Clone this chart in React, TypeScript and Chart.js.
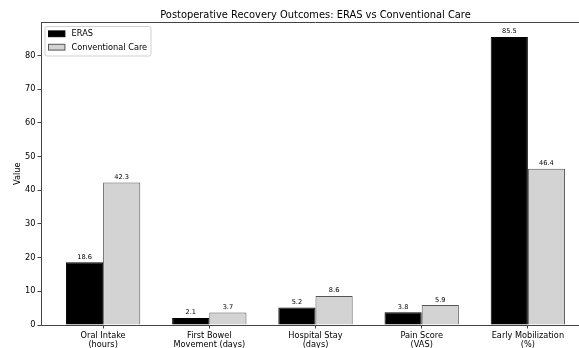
import React, { useEffect, useRef } from "react";
import { Chart, registerables } from "chart.js";

Chart.register(...registerables);

const categories: string[][] = [
  ["Oral Intake", "(hours)"],
  ["First Bowel", "Movement (days)"],
  ["Hospital Stay", "(days)"],
  ["Pain Score", "(VAS)"],
  ["Early Mobilization", "(%)"],
];
const erasValues = [18.6, 2.1, 5.2, 3.8, 85.5];
const conventionalValues = [42.3, 3.7, 8.6, 5.9, 46.4];
const seriesNames = ["ERAS", "Conventional Care"];
const yTicks = [0, 10, 20, 30, 40, 50, 60, 70, 80];
const chartTitle = "Postoperative Recovery Outcomes: ERAS vs Conventional Care";
const yTitle = "Value";

const FONT = "'DejaVu Sans', sans-serif";
const CW = 620;
const CH = 380;
const SPINE = "#444";

export default function App() {
  const ref = useRef<HTMLCanvasElement | null>(null);

  useEffect(() => {
    if (!ref.current) return;

    const labelPlugin = {
      id: "valueLabels",
      afterDatasetsDraw(chart: any) {
        const ctx = chart.ctx;
        ctx.save();
        ctx.font = `6.6px ${FONT}`;
        ctx.fillStyle = "#000";
        ctx.textAlign = "center";
        ctx.textBaseline = "bottom";
        chart.data.datasets.forEach((ds: any, di: number) => {
          const meta = chart.getDatasetMeta(di);
          meta.data.forEach((el: any, i: number) => {
            ctx.fillText(ds.data[i].y.toFixed(1), el.x, el.y - 2);
          });
        });
        ctx.restore();
      },
      afterDraw(chart: any) {
        const ctx = chart.ctx;
        const a = chart.chartArea;
        ctx.save();
        // top and right spines
        ctx.strokeStyle = SPINE;
        ctx.lineWidth = 1;
        ctx.beginPath();
        ctx.moveTo(a.left, a.top);
        ctx.lineTo(a.right, a.top);
        ctx.lineTo(a.right, a.bottom);
        ctx.stroke();
        // title
        ctx.font = `9.9px ${FONT}`;
        ctx.fillStyle = "#000";
        ctx.textAlign = "center";
        ctx.textBaseline = "alphabetic";
        ctx.fillText(chartTitle, (a.left + a.right) / 2, 18);
        // legend
        const lx = 45, ly = 26.5, lw = 106, lh = 29.5;
        ctx.beginPath();
        ctx.roundRect(lx, ly, lw, lh, 2);
        ctx.fillStyle = "rgba(255,255,255,0.8)";
        ctx.fill();
        ctx.strokeStyle = "#d0d0d0";
        ctx.lineWidth = 1;
        ctx.stroke();
        const rows = [33.8, 47.2];
        chart.data.datasets.forEach((ds: any, i: number) => {
          const cy = rows[i];
          ctx.fillStyle = ds.backgroundColor;
          ctx.fillRect(48.5, cy - 2.9, 16.4, 5.8);
          ctx.strokeStyle = ds.borderColor;
          ctx.lineWidth = 1;
          ctx.strokeRect(48.5, cy - 2.9, 16.4, 5.8);
          ctx.fillStyle = "#000";
          ctx.font = `8.2px ${FONT}`;
          ctx.textAlign = "left";
          ctx.textBaseline = "middle";
          ctx.fillText(ds.label, 71.6, cy + 0.5);
        });
        ctx.restore();
      },
    };

    const chart = new Chart(ref.current, {
      type: "bar",
      data: {
        datasets: [
          {
            label: seriesNames[0],
            data: erasValues.map((v, i) => ({ x: i, y: v })),
            backgroundColor: "#000000",
            borderColor: "#000000",
            borderWidth: 1,
            barPercentage: 1,
            categoryPercentage: 0.7,
          },
          {
            label: seriesNames[1],
            data: conventionalValues.map((v, i) => ({ x: i, y: v })),
            backgroundColor: "#d3d3d3",
            borderColor: "#555555",
            borderWidth: 1,
            barPercentage: 1,
            categoryPercentage: 0.7,
          },
        ],
      },
      options: {
        animation: false,
        responsive: false,
        maintainAspectRatio: false,
        layout: { padding: { left: 0, right: CW - 590, top: 22.5, bottom: 0 } },
        plugins: {
          legend: { display: false },
          title: { display: false },
          tooltip: { enabled: false },
        },
        scales: {
          x: {
            type: "linear",
            offset: false,
            min: -0.585,
            max: 4.585,
            afterBuildTicks: (axis: any) => {
              axis.ticks = categories.map((_, i) => ({ value: i }));
            },
            afterFit: (scale: any) => {
              scale.height = CH - 325;
            },
            ticks: {
              autoSkip: false,
              maxRotation: 0,
              color: "#000",
              font: { family: FONT, size: 8.2, lineHeight: 1.15 },
              padding: 2.5,
              callback: (v: any) => categories[Math.round(v)] || "",
            },
            grid: {
              offset: false,
              drawOnChartArea: false,
              drawTicks: true,
              tickLength: 3.5,
              color: SPINE,
            },
            border: { display: true, color: SPINE, width: 1 },
          },
          y: {
            min: 0,
            max: 89.775,
            afterBuildTicks: (axis: any) => {
              axis.ticks = yTicks.map((v) => ({ value: v }));
            },
            afterFit: (scale: any) => {
              scale.width = 41;
            },
            ticks: {
              color: "#000",
              font: { family: FONT, size: 8.2 },
              padding: 2,
            },
            grid: {
              drawOnChartArea: false,
              drawTicks: true,
              tickLength: 3.5,
              color: SPINE,
            },
            border: { display: true, color: SPINE, width: 1 },
            title: {
              display: true,
              text: yTitle,
              color: "#000",
              font: { family: FONT, size: 8.2 },
              padding: { top: 13, bottom: 0 },
            },
          },
        },
      },
      plugins: [labelPlugin],
    });

    return () => chart.destroy();
  }, []);

  return (
    <div
      style={{
        position: "fixed",
        left: 0,
        top: 0,
        width: 579,
        height: 348,
        overflow: "hidden",
        background: "#fff",
      }}
    >
      <canvas ref={ref} width={CW} height={CH} style={{ display: "block", width: CW, height: CH }} />
    </div>
  );
}
